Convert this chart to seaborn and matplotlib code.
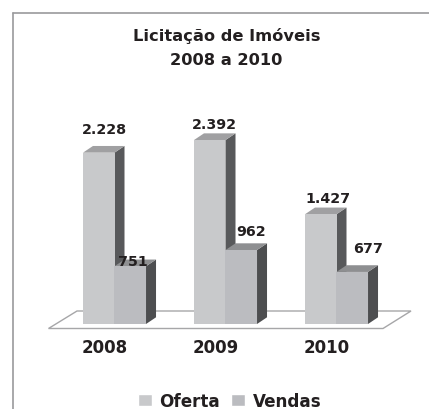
import matplotlib
matplotlib.use("Agg")
import matplotlib.pyplot as plt
from matplotlib.lines import Line2D
from matplotlib.patches import Polygon
import pandas as pd
import seaborn as sns

anos = ["2008", "2009", "2010"]
oferta = [2228, 2392, 1427]
vendas = [751, 962, 677]
rotulos_oferta = ["2.228", "2.392", "1.427"]
rotulos_vendas = ["751", "962", "677"]

df = pd.DataFrame({
    "ano": anos * 2,
    "valor": oferta + vendas,
    "serie": ["Oferta"] * 3 + ["Vendas"] * 3,
})

W, H = 429, 410
sns.set_style("white")
plt.rcParams["font.family"] = "DejaVu Sans"
fig = plt.figure(figsize=(W / 100, H / 100), dpi=100)

# plot area sits on the chart baseline, px per value
ax = fig.add_axes([12 / W, 85 / H, (W - 12) / W, 311 / H])
ax.patch.set_alpha(0)
sns.barplot(data=df, x="ano", y="valor", hue="serie",
            palette=["#c8c9cb", "#bbbcc0"], saturation=1,
            width=0.568, gap=0, ax=ax)
ax.set_xlim((12 - 114.5) / 111, (W - 114.5) / 111)
ax.set_ylim(0, 311 / 0.0769)
ax.set_xlabel("")
ax.set_ylabel("")
ax.set_yticks([])
ax.set_xticks([i - 10 / 111 for i in range(3)], anos)
ax.tick_params(axis="x", length=0, pad=10, labelsize=12, labelcolor="#231f20")
for t in ax.get_xticklabels():
    t.set_fontweight("bold")
sns.despine(ax=ax, left=True, bottom=True)

# fake 3d faces
dx = 10 / 111
dy = 6.7 / 0.0769
lados = ["#58595b", "#4d4e50"]
topos = ["#a0a0a2", "#8e8f91"]
for k, cont in enumerate(ax.containers):
    for b in cont:
        b.set_linewidth(0)
        b.set_zorder(2 + k)
        x0 = b.get_x()
        x1 = x0 + b.get_width()
        y1 = b.get_height()
        ax.add_patch(Polygon([(x1, 0), (x1 + dx, dy), (x1 + dx, y1 + dy), (x1, y1)],
                             fc=lados[k], lw=0, zorder=1.5 + k))
        ax.add_patch(Polygon([(x0, y1), (x0 + dx, y1 + dy), (x1 + dx, y1 + dy), (x1, y1)],
                             fc=topos[k], lw=0, zorder=1.5 + k))

# labels
desl_oferta = [(6, 24), (5, 16), (7, 16)]
desl_vendas = [(2.5, 5), (9.7, 19), (15.7, 24)]
for cont, rot, desl in zip(ax.containers, [rotulos_oferta, rotulos_vendas],
                           [desl_oferta, desl_vendas]):
    for b, r, d in zip(cont, rot, desl):
        ax.annotate(r, (b.get_x() + b.get_width() / 2, b.get_height()),
                    xytext=(d[0] * 0.72, d[1] * 0.72), textcoords="offset points",
                    ha="center", va="center", fontsize=10.3, fontweight="bold",
                    color="#231f20", zorder=6)

# floor and outer frame
def px(x, y):
    return (x / W, 1 - y / H)

chao = [px(48.5, 329.5), px(383, 329.5), px(411, 312), px(77, 312)]
fig.add_artist(Polygon(chao, closed=True, fc="white", ec="#a6a6a8", lw=1,
                       transform=fig.transFigure, zorder=-1))
for a, b in [((12.5, 14), (W, 14)), ((12.5, 14), (12.5, H))]:
    p, q = px(*a), px(*b)
    fig.add_artist(Line2D([p[0], q[0]], [p[1], q[1]], color="#9a9a9c", lw=1.2,
                          transform=fig.transFigure, zorder=-1))

fig.text(226.5 / W, 1 - 36 / H, "Licitação de Imóveis", ha="center", va="center",
         fontsize=11.7, fontweight="bold", color="#231f20")
fig.text(226.5 / W, 1 - 60.5 / H, "2008 a 2010", ha="center", va="center",
         fontsize=11.7, fontweight="bold", color="#231f20")

leg = ax.legend(loc="center", bbox_to_anchor=(229.5 / W, 1 - 402 / H),
                bbox_transform=fig.transFigure, ncol=2, frameon=False,
                handlelength=0.85, handleheight=0.75, handletextpad=0.45,
                columnspacing=0.65, borderpad=0,
                prop={"size": 12.1, "weight": "bold"})
for t in leg.get_texts():
    t.set_color("#231f20")

fig.savefig("out.png", dpi=100)
